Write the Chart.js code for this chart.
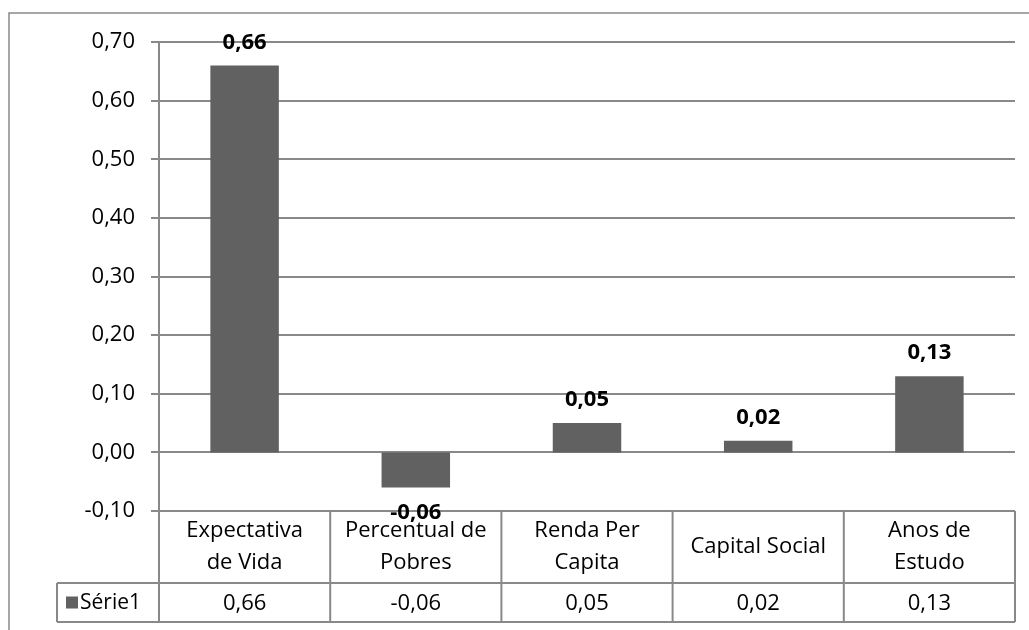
<!DOCTYPE html>
<html>
<head>
<meta charset="utf-8">
<script src="https://cdn.jsdelivr.net/npm/chart.js@4.4.1/dist/chart.umd.min.js"></script>
<style>
  html, body { margin: 0; padding: 0; background: #fff; }
  #wrap { width: 1029px; height: 630px; }
</style>
</head>
<body>
<div id="wrap"><canvas id="bar-chart"></canvas></div>
<script>
// values
const categories = [
    ['Expectativa', 'de Vida'],
    ['Percentual de', 'Pobres'],
    ['Renda Per', 'Capita'],
    ['Capital Social'],
    ['Anos de', 'Estudo']
];
const seriesName = 'Série1';
const values = [0.66, -0.06, 0.05, 0.02, 0.13];

const FONT = "'Open Sans', sans-serif";
const GRID = '#898989';
const BAR = '#616161';

const fmt = v => (Math.abs(v) < 1e-9 ? 0 : v).toFixed(2).replace('.', ',');

// draws the outer frame, the data table and the value labels
const tablePlugin = {
    id: 'dataTable',
    afterDraw(chart) {
        const c = chart.ctx;
        const x = chart.scales.x;
        const area = chart.chartArea;
        const n = categories.length;
        const colW = (area.right - area.left) / n;
        const top = area.bottom;
        const mid = top + 72;
        const bot = mid + 39;
        const keyLeft = 57;

        c.save();
        c.strokeStyle = GRID;
        c.lineWidth = 1.5;
        // outer chart frame
        c.strokeRect(9, 13, 1040, 640);

        c.lineWidth = 2;
        c.beginPath();
        c.moveTo(area.left, top);
        c.lineTo(area.left, bot);
        for (let i = 1; i <= n; i++) {
            const xx = area.left + colW * i;
            c.moveTo(xx, top);
            c.lineTo(xx, bot);
        }
        c.moveTo(keyLeft, mid);
        c.lineTo(area.right, mid);
        c.moveTo(keyLeft, bot);
        c.lineTo(area.right, bot);
        c.moveTo(keyLeft, mid);
        c.lineTo(keyLeft, bot);
        c.stroke();

        c.fillStyle = '#000';
        c.font = '22px ' + FONT;
        c.textAlign = 'center';
        c.textBaseline = 'middle';
        categories.forEach((lines, i) => {
            const cx = x.getPixelForValue(i);
            const cy = (top + mid) / 2;
            const lh = 32;
            lines.forEach((ln, j) => {
                c.fillText(ln, cx, cy + (j - (lines.length - 1) / 2) * lh);
            });
            c.fillText(fmt(values[i]), cx, (mid + bot) / 2 + 1);
        });

        // legend key + series name
        c.fillStyle = BAR;
        c.fillRect(66, (mid + bot) / 2 - 6, 12, 12);
        c.fillStyle = '#000';
        c.textAlign = 'left';
        c.font = '21px ' + FONT;
        c.fillText(seriesName, 80, (mid + bot) / 2 + 1);

        // value labels
        c.font = 'bold 22px ' + FONT;
        c.textAlign = 'center';
        const meta = chart.getDatasetMeta(0);
        meta.data.forEach((bar, i) => {
            const v = values[i];
            const y = v >= 0 ? bar.y - 23 : bar.y + 25;
            c.fillText(fmt(v), bar.x, y);
        });
        c.restore();
    }
};

new Chart(document.getElementById('bar-chart'), {
    type: 'bar',
    plugins: [tablePlugin],
    data: {
        labels: categories.map(l => l.join(' ')),
        datasets: [{
            label: seriesName,
            data: values,
            backgroundColor: BAR,
            borderWidth: 0,
            categoryPercentage: 1,
            barPercentage: 0.4
        }]
    },
    options: {
        responsive: true,
        maintainAspectRatio: false,
        animation: false,
        events: [],
        layout: {
            padding: { left: 0, top: 42, right: 14, bottom: 119 }
        },
        plugins: {
            legend: { display: false },
            tooltip: { enabled: false }
        },
        scales: {
            x: {
                display: false
            },
            y: {
                min: -0.1,
                max: 0.7,
                afterFit: s => { s.width = 159; },
                ticks: {
                    stepSize: 0.1,
                    padding: 16,
                    color: '#000',
                    font: { family: FONT, size: 22 },
                    callback: v => fmt(v)
                },
                grid: {
                    color: GRID,
                    lineWidth: 2,
                    tickLength: 8,
                    drawTicks: true
                },
                border: { color: GRID, width: 2 }
            }
        }
    }
});
</script>
</body>
</html>
